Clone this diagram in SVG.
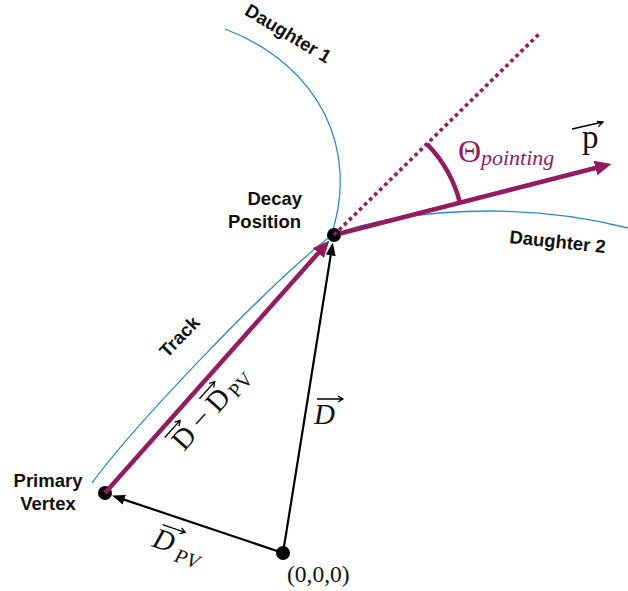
<svg xmlns="http://www.w3.org/2000/svg" width="628" height="591" viewBox="0 0 628 591">
<style>
.lbl{font-family:"Liberation Sans",Arial,sans-serif;font-weight:bold;font-size:18.5px;fill:#111}
.math{font-family:"Liberation Serif","Times New Roman",serif;fill:#111}
.it{font-style:italic}
.blue{fill:none;stroke:#2B8AD2;stroke-width:1.3}
.mag{fill:none;stroke:#961B5E;stroke-width:4.5}
.blk{fill:none;stroke:#000;stroke-width:2.2}
.ov{fill:none;stroke:#000;stroke-width:1.3}
.dot{fill:#000}
</style>
<defs>
<marker id="mh" markerUnits="userSpaceOnUse" markerWidth="17" markerHeight="16" refX="6" refY="7.5" orient="auto" viewBox="0 0 17 15">
<path d="M0,0 L16.5,7.5 L0,15 z" fill="#961B5E"/>
</marker>
<marker id="bh" markerUnits="userSpaceOnUse" markerWidth="14" markerHeight="11" refX="5" refY="5" orient="auto" viewBox="0 0 14 10">
<path d="M0,0 L13,5 L0,10 z" fill="#000"/>
</marker>
</defs>

<g id="tracks">
<path class="blue" d="M92,483 C132,428 268,284 331,236"/>
<path class="blue" d="M331,236 C360,150 320,65 225,29"/>
<path class="blue" d="M336,234 C400,210 520,200 628,228"/>
</g>

<g id="nodes">
<g id="origin"><circle class="dot" cx="283" cy="553" r="7"/></g>
<g id="primary-vertex"><circle class="dot" cx="105" cy="493" r="7"/></g>
<g id="decay-position"><circle class="dot" cx="334" cy="235" r="7"/></g>
</g>

<g id="connectors">
<path class="blk" d="M283,553 L331.5,250.4" marker-end="url(#bh)"/>
<path class="blk" d="M283,553 L119.6,498.1" marker-end="url(#bh)"/>
<path class="mag" d="M105,493 L322.3,248.5" marker-end="url(#mh)"/>
<path class="mag" d="M340,233.5 L601.3,166.5" marker-end="url(#mh)"/>
<path fill="none" stroke="#961B5E" stroke-width="3.6" stroke-dasharray="3.6,3.47" d="M334,235 L541,32"/>
<path class="mag" d="M427,144 A130,130 0 0 1 460,203"/>
</g>

<g id="labels">
<text class="lbl" transform="translate(285,39) rotate(31)" text-anchor="middle">Daughter 1</text>
<text class="lbl" transform="translate(557,248) rotate(6)" text-anchor="middle">Daughter 2</text>
<text class="lbl" x="302" y="205" text-anchor="end">Decay</text>
<text class="lbl" x="301" y="228" text-anchor="end">Position</text>
<text class="lbl" transform="translate(184,341) rotate(-46)" text-anchor="middle">Track</text>
<text class="lbl" x="48" y="487" text-anchor="middle">Primary</text>
<text class="lbl" x="48" y="510" text-anchor="middle">Vertex</text>

<text class="math" x="287" y="582" font-size="23.5">(0,0,0)</text>

<g id="label-D">
<text class="math it" x="314" y="424" font-size="29">D</text>
<path class="ov" d="M317,399 L343,399 M338,396 L343,399 L338,402"/>
</g>

<g id="label-DPV" transform="translate(151,546) rotate(18.8)">
<text class="math it" x="0" y="0" font-size="29">D</text>
<text class="math it" x="26" y="7" font-size="20">PV</text>
<path class="ov" d="M4,-24 L28,-24 M23,-27 L28,-24 L23,-21"/>
</g>

<g id="label-diff" transform="translate(184,452) rotate(-48.2)">
<text class="math" x="0" y="0" font-size="29">D</text>
<text class="math" x="27.5" y="0" font-size="29">−</text>
<text class="math" x="51" y="0" font-size="29">D</text>
<text class="math" x="75" y="4" font-size="20">PV</text>
<path class="ov" d="M-2,-24 L21,-24 M16,-27 L21,-24 L16,-21"/>
<path class="ov" d="M50,-24 L73,-24 M68,-27 L73,-24 L68,-21"/>
</g>

<g id="label-theta">
<text x="458" y="162" font-size="32" font-family="Liberation Serif,Times New Roman,serif" fill="#961B5E">Θ</text>
<text x="481" y="165" font-size="22" font-style="italic" font-family="Liberation Serif,Times New Roman,serif" fill="#961B5E">pointing</text>
</g>

<g id="label-p">
<text class="math" x="582" y="148" font-size="33">p</text>
<path class="ov" d="M572,129 L603,122 M597,121.5 L603,122 L598.5,126.5"/>
</g>
</g>
</svg>
